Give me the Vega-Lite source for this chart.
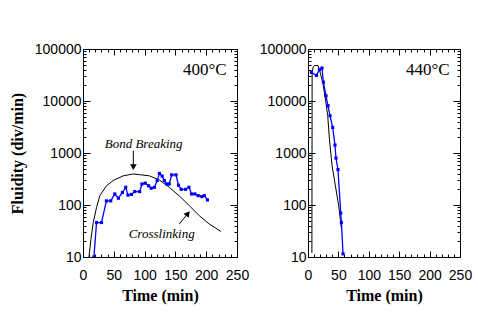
{
  "$schema": "https://vega.github.io/schema/vega-lite/v6.json",
  "background": "white",
  "padding": {"left": 8, "top": 41, "right": 5, "bottom": 5},
  "config": {
    "view": {"stroke": "black", "strokeWidth": 1},
    "concat": {"spacing": 8},
    "axis": {
      "domainColor": "black", "tickColor": "black", "labelColor": "black", "titleColor": "black",
      "labelFont": "Liberation Sans", "labelFontSize": 14, "titleFont": "Liberation Serif",
      "titleFontWeight": "bold", "titleFontSize": 16, "grid": false, "labelOverlap": false,
      "labelFlush": false, "labelBound": false
    }
  },
  "datasets": {
    "m400": [{"t":9.7,"v":10},{"t":12.9,"v":22},{"t":16.6,"v":46},{"t":22,"v":90},{"t":27.4,"v":151},{"t":38,"v":234},{"t":49,"v":295},{"t":65,"v":363},{"t":81,"v":395},{"t":92,"v":383},{"t":108,"v":363},{"t":124,"v":303},{"t":140,"v":219},{"t":156,"v":151},{"t":172.6,"v":97},{"t":189,"v":62},{"t":205,"v":43},{"t":224,"v":31}],
    "d400": [{"t":17.7,"v":10},{"t":22,"v":46},{"t":30,"v":46},{"t":38,"v":120},{"t":45,"v":120},{"t":51.6,"v":163},{"t":57.5,"v":135},{"t":64,"v":174},{"t":69.4,"v":219},{"t":73,"v":155},{"t":78.8,"v":160},{"t":84,"v":181},{"t":92,"v":181},{"t":95.7,"v":253},{"t":101,"v":263},{"t":106.5,"v":234},{"t":110.7,"v":210},{"t":116,"v":219},{"t":120.5,"v":295},{"t":124,"v":405},{"t":128.5,"v":360},{"t":132,"v":295},{"t":136,"v":253},{"t":140,"v":253},{"t":144,"v":380},{"t":151,"v":380},{"t":155,"v":240},{"t":159.4,"v":200},{"t":166.6,"v":200},{"t":172,"v":219},{"t":176.3,"v":163},{"t":181.7,"v":163},{"t":187,"v":151},{"t":193,"v":145},{"t":197,"v":151},{"t":202,"v":125}],
    "m440": [{"t":6.4,"v":12},{"t":6.8,"v":35000},{"t":8.5,"v":45000},{"t":10.5,"v":48000},{"t":16.5,"v":48000},{"t":19.2,"v":38000},{"t":24.2,"v":23000},{"t":28.6,"v":11000},{"t":32.4,"v":5300},{"t":35.2,"v":1860},{"t":39.5,"v":580},{"t":45,"v":234},{"t":50.5,"v":97},{"t":55,"v":35}],
    "d440": [{"t":5.6,"v":35500},{"t":13.8,"v":31000},{"t":18.7,"v":40000},{"t":23,"v":43000},{"t":25.3,"v":23000},{"t":29.6,"v":12600},{"t":32.9,"v":8100},{"t":36.2,"v":5200},{"t":40.6,"v":3100},{"t":44.4,"v":1420},{"t":46,"v":800},{"t":49.3,"v":480},{"t":53.8,"v":70},{"t":55,"v":46},{"t":57.6,"v":11.5}],
    "notes400": [{"t":98.5,"v":1230,"text":"Bond Breaking"},{"t":127.7,"v":23.2,"text":"Crosslinking"}],
    "arrows400": [{"id":"bb","t":81.7,"v":1107},{"id":"bb","t":81.7,"v":533},{"id":"cl","t":156.3,"v":43.2},{"id":"cl","t":170.3,"v":68.7}],
    "heads400": [{"id":"bb","t":81.7,"v":533},{"id":"cl","t":170.3,"v":68.7}],
    "temp400": [{"t":233,"v":31600,"text":"400°C"}],
    "temp440": [{"t":233,"v":31600,"text":"440°C"}]
  },
  "hconcat": [
    {
      "width": 154, "height": 208,
      "layer": [
        {
          "data": {"name": "m400"},
          "mark": {"type": "line", "color": "black", "strokeWidth": 1, "clip": true},
          "encoding": {
            "x": {"field": "t", "type": "quantitative", "scale": {"domain": [0, 250], "nice": false},
              "axis": {"title": "Time (min)", "values": [0,10,20,30,40,50,60,70,80,90,100,110,120,130,140,150,160,170,180,190,200,210,220,230,240,250],
                "labelExpr": "datum.value % 50 == 0 ? datum.label : ''", "tickSize": {"condition": {"test": "datum.value % 50 == 0", "value": -6}, "value": -3}, "labelPadding": 17, "titlePadding": 2}},
            "y": {"field": "v", "type": "quantitative", "scale": {"type": "log", "domain": [10, 100000], "nice": false},
              "axis": {"title": "Fluidity (div/min)", "format": "d", "values": [10,20,30,40,50,60,70,80,90,100,200,300,400,500,600,700,800,900,1000,2000,3000,4000,5000,6000,7000,8000,9000,10000,20000,30000,40000,50000,60000,70000,80000,90000,100000],
                "labelExpr": "indexof([10,100,1000,10000,100000], datum.value) >= 0 ? datum.label : ''",
                "tickSize": {"condition": {"test": "indexof([10,100,1000,10000,100000], datum.value) >= 0", "value": -7}, "value": -3}, "labelPadding": 9, "titlePadding": 9}}
          }
        },
        {
          "data": {"name": "d400"},
          "mark": {"type": "line", "color": "#0000ff", "strokeWidth": 1.3, "clip": true, "point": {"shape": "square", "size": 10, "filled": true, "color": "#0000ff"}},
          "encoding": {
            "x": {"field": "t", "type": "quantitative", "scale": {"domain": [0, 250], "nice": false},
              "axis": {"orient": "top", "title": null, "labels": false, "values": [0,10,20,30,40,50,60,70,80,90,100,110,120,130,140,150,160,170,180,190,200,210,220,230,240,250],
                "tickSize": {"condition": {"test": "datum.value % 50 == 0", "value": -6}, "value": -3}}},
            "y": {"field": "v", "type": "quantitative", "scale": {"type": "log", "domain": [10, 100000], "nice": false},
              "axis": {"orient": "right", "title": null, "labels": false, "values": [10,20,30,40,50,60,70,80,90,100,200,300,400,500,600,700,800,900,1000,2000,3000,4000,5000,6000,7000,8000,9000,10000,20000,30000,40000,50000,60000,70000,80000,90000,100000],
                "tickSize": {"condition": {"test": "indexof([10,100,1000,10000,100000], datum.value) >= 0", "value": -7}, "value": -3}}}
          }
        },
        {
          "data": {"name": "notes400"},
          "mark": {"type": "text", "font": "Liberation Serif", "fontStyle": "italic", "fontSize": 13, "align": "center", "baseline": "alphabetic", "color": "black"},
          "encoding": {
            "x": {"field": "t", "type": "quantitative", "axis": null},
            "y": {"field": "v", "type": "quantitative", "axis": null},
            "text": {"field": "text"}
          }
        },
        {
          "data": {"name": "arrows400"},
          "mark": {"type": "line", "color": "black", "strokeWidth": 1},
          "encoding": {
            "x": {"field": "t", "type": "quantitative", "axis": null},
            "y": {"field": "v", "type": "quantitative", "axis": null},
            "detail": {"field": "id"}
          }
        },
        {
          "data": {"name": "heads400"},
          "transform": [{"filter": "datum.id == 'bb'"}],
          "mark": {"type": "point", "shape": "triangle-down", "size": 45, "filled": true, "color": "black", "opacity": 1},
          "encoding": {
            "x": {"field": "t", "type": "quantitative", "axis": null},
            "y": {"field": "v", "type": "quantitative", "axis": null}
          }
        },
        {
          "data": {"name": "heads400"},
          "transform": [{"filter": "datum.id == 'cl'"}],
          "mark": {"type": "point", "shape": "triangle-up", "angle": 39, "size": 45, "filled": true, "color": "black", "opacity": 1},
          "encoding": {
            "x": {"field": "t", "type": "quantitative", "axis": null},
            "y": {"field": "v", "type": "quantitative", "axis": null}
          }
        },
        {
          "data": {"name": "temp400"},
          "mark": {"type": "text", "font": "Liberation Serif", "fontSize": 17, "align": "right", "baseline": "alphabetic", "color": "black"},
          "encoding": {
            "x": {"field": "t", "type": "quantitative", "axis": null},
            "y": {"field": "v", "type": "quantitative", "axis": null},
            "text": {"field": "text"}
          }
        }
      ],
      "resolve": {"axis": {"x": "independent", "y": "independent"}}
    },
    {
      "width": 152, "height": 208,
      "layer": [
        {
          "data": {"name": "m440"},
          "mark": {"type": "line", "color": "black", "strokeWidth": 1, "clip": true},
          "encoding": {
            "x": {"field": "t", "type": "quantitative", "scale": {"domain": [0, 250], "nice": false},
              "axis": {"title": "Time (min)", "values": [0,10,20,30,40,50,60,70,80,90,100,110,120,130,140,150,160,170,180,190,200,210,220,230,240,250],
                "labelExpr": "datum.value % 50 == 0 ? datum.label : ''", "tickSize": {"condition": {"test": "datum.value % 50 == 0", "value": -6}, "value": -3}, "labelPadding": 17, "titlePadding": 2}},
            "y": {"field": "v", "type": "quantitative", "scale": {"type": "log", "domain": [10, 100000], "nice": false},
              "axis": {"title": null, "format": "d", "values": [10,20,30,40,50,60,70,80,90,100,200,300,400,500,600,700,800,900,1000,2000,3000,4000,5000,6000,7000,8000,9000,10000,20000,30000,40000,50000,60000,70000,80000,90000,100000],
                "labelExpr": "indexof([10,100,1000,10000,100000], datum.value) >= 0 ? datum.label : ''",
                "tickSize": {"condition": {"test": "indexof([10,100,1000,10000,100000], datum.value) >= 0", "value": -7}, "value": -3}, "labelPadding": 9}}
          }
        },
        {
          "data": {"name": "d440"},
          "mark": {"type": "line", "color": "#0000ff", "strokeWidth": 1.3, "clip": true, "point": {"shape": "square", "size": 10, "filled": true, "color": "#0000ff"}},
          "encoding": {
            "x": {"field": "t", "type": "quantitative", "scale": {"domain": [0, 250], "nice": false},
              "axis": {"orient": "top", "title": null, "labels": false, "values": [0,10,20,30,40,50,60,70,80,90,100,110,120,130,140,150,160,170,180,190,200,210,220,230,240,250],
                "tickSize": {"condition": {"test": "datum.value % 50 == 0", "value": -6}, "value": -3}}},
            "y": {"field": "v", "type": "quantitative", "scale": {"type": "log", "domain": [10, 100000], "nice": false},
              "axis": {"orient": "right", "title": null, "labels": false, "values": [10,20,30,40,50,60,70,80,90,100,200,300,400,500,600,700,800,900,1000,2000,3000,4000,5000,6000,7000,8000,9000,10000,20000,30000,40000,50000,60000,70000,80000,90000,100000],
                "tickSize": {"condition": {"test": "indexof([10,100,1000,10000,100000], datum.value) >= 0", "value": -7}, "value": -3}}}
          }
        },
        {
          "data": {"name": "temp440"},
          "mark": {"type": "text", "font": "Liberation Serif", "fontSize": 17, "align": "right", "baseline": "alphabetic", "color": "black"},
          "encoding": {
            "x": {"field": "t", "type": "quantitative", "axis": null},
            "y": {"field": "v", "type": "quantitative", "axis": null},
            "text": {"field": "text"}
          }
        }
      ],
      "resolve": {"axis": {"x": "independent", "y": "independent"}}
    }
  ]
}
